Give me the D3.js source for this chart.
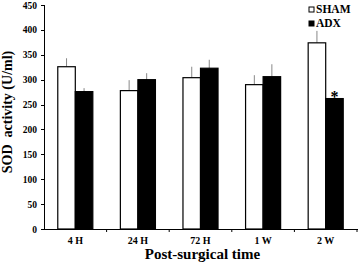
<!DOCTYPE html>
<meta charset="utf-8">
<head>
<style>
body { margin: 0; background: #fff; }
text { font-family: "Liberation Serif", "Times New Roman", serif; font-weight: bold; }
.axis path, .axis line { stroke: #000; shape-rendering: crispEdges; }
</style>
</head>
<body>
<script src="https://d3js.org/d3.v7.min.js"></script>
<script>
// data
var categories = ["4 H", "24 H", "72 H", "1 W", "2 W"];
var series = ["SHAM", "ADX"];
var shamMean = [326, 278, 304, 290, 374];
var shamErr = [17, 21, 22, 19, 24];
var adxMean = [276, 300, 323, 306, 262];
var adxErr = [7, 13, 17, 25, 8];
var yTicks = [0, 50, 100, 150, 200, 250, 300, 350, 400, 450];

var W = 359, H = 266;
var margin = { top: 5, right: 2, bottom: 37, left: 44 },
    width = W - margin.left - margin.right,
    height = H - margin.top - margin.bottom;

var svg = d3.select("body").append("svg")
    .attr("width", W).attr("height", H)
    .append("g")
    .attr("transform", "translate(" + margin.left + "," + margin.top + ")");

var x = d3.scaleBand().domain(categories).range([0, width]).paddingInner(0).paddingOuter(0);
var inner = d3.scaleBand().domain(series).range([x.bandwidth() * 0.22, x.bandwidth() * 0.78]);
var y = d3.scaleLinear().domain([0, 450]).range([height, 0]);

var rows = categories.map(function(c, i) {
    return [
        { cat: c, s: "SHAM", v: shamMean[i], e: shamErr[i] },
        { cat: c, s: "ADX", v: adxMean[i], e: adxErr[i] }
    ];
});
var flat = [].concat.apply([], rows);

// error bars (upper only)
svg.selectAll(".err").data(flat).enter().append("line")
    .attr("x1", function(d) { return x(d.cat) + inner(d.s) + inner.bandwidth() / 2; })
    .attr("x2", function(d) { return x(d.cat) + inner(d.s) + inner.bandwidth() / 2; })
    .attr("y1", function(d) { return y(d.v); })
    .attr("y2", function(d) { return y(d.v + d.e); })
    .attr("stroke", "#888").attr("stroke-width", 1);

// bars
svg.selectAll(".bar").data(flat).enter().append("rect")
    .attr("x", function(d) { return x(d.cat) + inner(d.s); })
    .attr("width", inner.bandwidth())
    .attr("y", function(d) { return y(d.v); })
    .attr("height", function(d) { return height - y(d.v); })
    .attr("fill", function(d) { return d.s == "SHAM" ? "#fff" : "#000"; })
    .attr("stroke", "#000").attr("stroke-width", 1.2);

// axes
svg.append("g").attr("class", "axis")
    .attr("transform", "translate(0," + height + ")")
    .call(d3.axisBottom(x).tickSize(0).tickPadding(8))
    .call(function(g) { g.selectAll("text").style("font-size", "10px").style("font-family", "Liberation Serif").style("font-weight", "bold"); });

// boundary ticks on x axis
svg.selectAll(".xt").data(categories).enter().append("line")
    .attr("x1", function(d) { return x(d) + x.bandwidth(); })
    .attr("x2", function(d) { return x(d) + x.bandwidth(); })
    .attr("y1", height).attr("y2", height + 3)
    .attr("stroke", "#000");

svg.append("g").attr("class", "axis")
    .call(d3.axisLeft(y).tickValues(yTicks).tickSize(3).tickPadding(4))
    .call(function(g) {
        g.select(".domain").attr("stroke-width", 1.5);
        g.selectAll("text").style("font-size", "9.5px").style("font-family", "Liberation Serif").style("font-weight", "bold");
    });

// significance mark
svg.append("text")
    .attr("x", x("2 W") + inner("ADX") + inner.bandwidth() / 2)
    .attr("y", y(adxMean[4] + adxErr[4]) + 7)
    .attr("text-anchor", "middle")
    .style("font-size", "16px")
    .text("*");

// axis titles
svg.append("text")
    .attr("x", width / 2 + 2).attr("y", height + 30)
    .attr("text-anchor", "middle")
    .style("font-size", "15px")
    .text("Post-surgical time");

svg.append("text")
    .attr("transform", "rotate(-90)")
    .attr("x", -112 + margin.top).attr("y", -margin.left + 12)
    .attr("text-anchor", "middle")
    .style("font-size", "14px")
    .style("white-space", "pre")
    .text("SOD  activity (U/ml)");

// legend
var leg = svg.selectAll(".leg").data(series).enter().append("g")
    .attr("transform", function(d, i) { return "translate(" + (309 - margin.left) + "," + (7 + i * 14 - margin.top) + ")"; });
leg.append("rect").attr("width", 5).attr("height", 5)
    .attr("fill", function(d) { return d == "SHAM" ? "#fff" : "#000"; })
    .attr("stroke", "#000").attr("stroke-width", 1);
leg.append("text").attr("x", 7).attr("y", 6)
    .style("font-size", "11.5px")
    .text(function(d) { return d; });
</script>
</body>
